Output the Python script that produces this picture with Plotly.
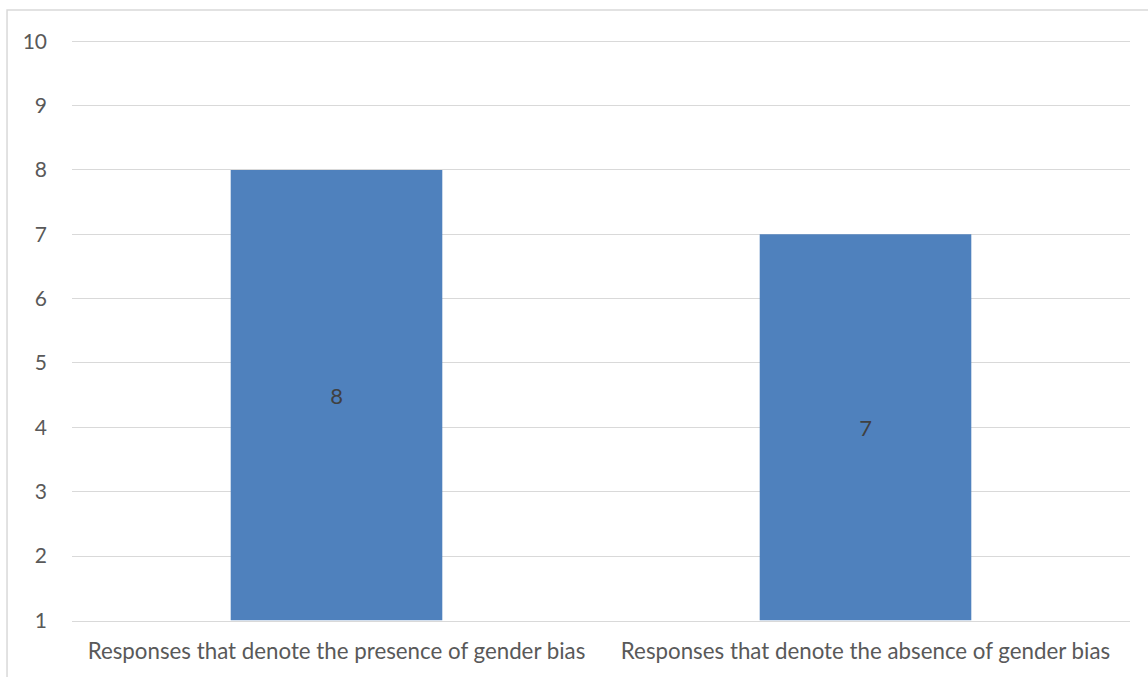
import plotly.graph_objects as go

categories = ["Responses that denote the presence of gender bias",
              "Responses that denote the absence of gender bias"]
values = [8, 7]
axis_min = 1
tick_vals = list(range(1, 11))

FONT = "Lato, Open Sans, sans-serif"

fig = go.Figure(go.Bar(
    x=categories,
    y=[v - axis_min for v in values],
    base=axis_min,
    text=[str(v) for v in values],
    textposition="inside",
    insidetextanchor="middle",
    textfont=dict(family=FONT, size=22, color="#404040"),
    marker=dict(color="#4f81bd", line=dict(width=0)),
    hoverinfo="skip",
))

fig.update_layout(
    width=1148, height=677,
    margin=dict(l=72, r=18, t=40, b=56),
    paper_bgcolor="white", plot_bgcolor="white",
    bargap=0.6,
    showlegend=False,
    font=dict(family=FONT, size=22, color="#595959"),
    xaxis=dict(showgrid=False, showline=True, linecolor="#d9d9d9", linewidth=1,
               ticks="", ticklabelstandoff=10, tickfont=dict(size=22.3, color="#595959")),
    yaxis=dict(range=[0.99, 10.02], tickvals=tick_vals, showgrid=True, gridcolor="#d9d9d9",
               gridwidth=1, zeroline=False, showline=False, ticks="",
               ticklabelstandoff=24, tickfont=dict(size=21, color="#595959")),
    shapes=[dict(type="rect", xref="paper", yref="paper",
                 x0=-0.0614, x1=1.2, y0=-0.3, y1=1.0516,
                 line=dict(color="#d9d9d9", width=1.5), fillcolor="rgba(0,0,0,0)",
                 layer="below")],
)

fig.write_html("out.html", config={"displayModeBar": False},
               post_script="document.body.style.margin='0';document.body.style.padding='0';")
